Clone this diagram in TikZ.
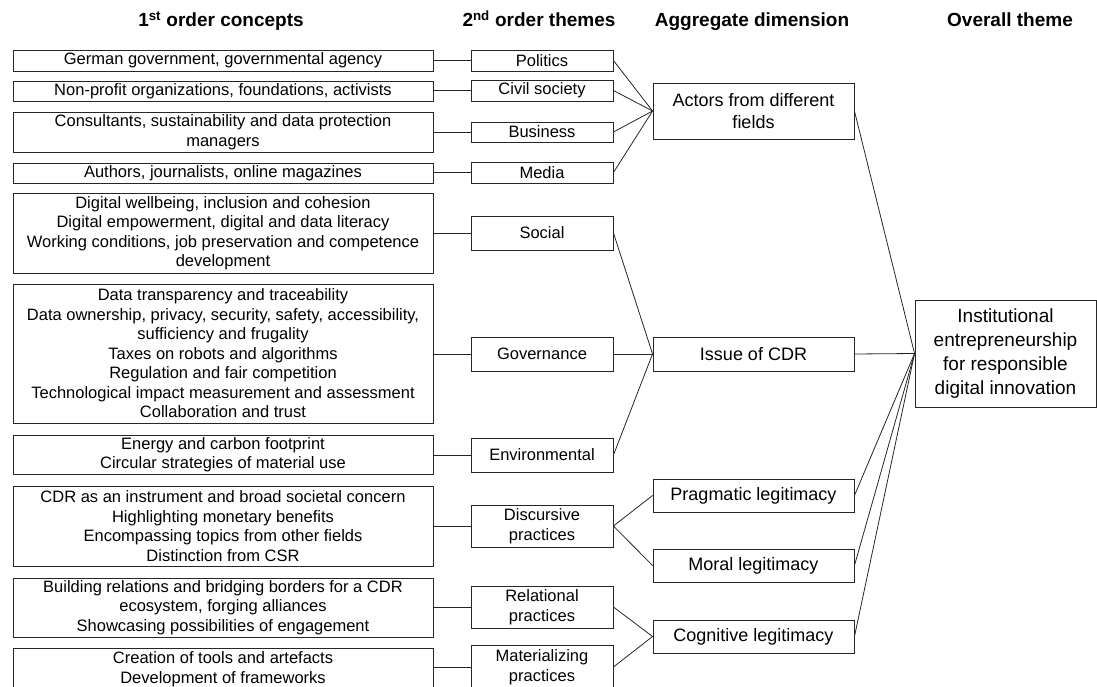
\documentclass[tikz,border=0pt]{standalone}
\usepackage{fontspec}
\setmainfont{Liberation Sans}
\begin{document}
\begin{tikzpicture}[x=1pt,y=-1pt,
  box/.style={draw=black!85,line width=0.9pt,rectangle,inner sep=0pt,align=center,text=black},
  cone/.style={box,minimum width=420,font=\fontsize{16.5}{19.5}\selectfont},
  ctwo/.style={box,minimum width=142,font=\fontsize{16.5}{20}\selectfont},
  cthree/.style={box,minimum width=201,font=\fontsize{18}{22}\selectfont},
  cfour/.style={box,minimum width=181,font=\fontsize{19}{24}\selectfont},
  hdr/.style={anchor=base,font=\fontsize{19}{22}\selectfont\bfseries},
  link/.style={draw=black!85,line width=0.8pt}]
\useasboundingbox (0,0) rectangle (1097,687);
% headers
\node[hdr] (h1) at (221,27) {1\textsuperscript{st} order concepts};
\node[hdr] (h2) at (539,27) {2\textsuperscript{nd} order themes};
\node[hdr] (h3) at (752,27) {Aggregate dimension};
\node[hdr] (h4) at (1010,27) {Overall theme};
% first order concepts
\node[cone,minimum height=21] (a1) at (223,60.5) {German government, governmental agency};
\node[cone,minimum height=20] (a2) at (223,91) {Non-profit organizations, foundations, activists};
\node[cone,minimum height=40] (a3) at (223,132) {Consultants, sustainability and data protection\\managers};
\node[cone,minimum height=20] (a4) at (223,173) {Authors, journalists, online magazines};
\node[cone,minimum height=80] (a5) at (223,233) {Digital wellbeing, inclusion and cohesion\\Digital empowerment, digital and data literacy\\Working conditions, job preservation and competence\\development};
\node[cone,minimum height=139] (a6) at (223,353.5) {Data transparency and traceability\\Data ownership, privacy, security, safety, accessibility,\\sufficiency and frugality\\Taxes on robots and algorithms\\Regulation and fair competition\\Technological impact measurement and assessment\\Collaboration and trust};
\node[cone,minimum height=39] (a7) at (223,454.5) {Energy and carbon footprint\\Circular strategies of material use};
\node[cone,minimum height=80] (a8) at (223,526) {CDR as an instrument and broad societal concern\\Highlighting\ monetary benefits\\Encompassing topics from other fields\\Distinction from CSR};
\node[cone,minimum height=59] (a9) at (223,607.5) {Building relations and bridging borders for a CDR\\ecosystem, forging alliances\\Showcasing possibilities of engagement};
\node[cone,minimum height=42] (a10) at (223,669) {Creation of tools and artefacts\\Development of frameworks};
% second order themes
\node[ctwo,minimum height=21] (b1) at (542,60.5) {Politics};
\node[ctwo,minimum height=21] (b2) at (542,90.5) {Civil society};
\node[ctwo,minimum height=20] (b3) at (542,132) {Business};
\node[ctwo,minimum height=21] (b4) at (542,172.5) {Media};
\node[ctwo,minimum height=34] (b5) at (542,233) {Social};
\node[ctwo,minimum height=34] (b6) at (542,354) {Governance};
\node[ctwo,minimum height=34] (b7) at (542,455) {Environmental};
\node[ctwo,minimum height=42] (b8) at (542,526) {Discursive\\practices};
\node[ctwo,minimum height=42] (b9) at (542,607) {Relational\\practices};
\node[ctwo,minimum height=44] (b10) at (542,667) {Materializing\\practices};
% aggregate dimensions
\node[cthree,minimum height=56] (c1) at (753.5,111) {Actors from different\\fields};
\node[cthree,minimum height=34] (c2) at (753.5,354) {Issue of CDR};
\node[cthree,minimum height=33] (c3) at (753.5,495.5) {Pragmatic legitimacy};
\node[cthree,minimum height=33] (c4) at (753.5,565.5) {Moral legitimacy};
\node[cthree,minimum height=33] (c5) at (753.5,636.5) {Cognitive legitimacy};
% overall theme
\node[cfour,minimum height=107] (d1) at (1005.5,353.5) {Institutional\\entrepreneurship\\for responsible\\digital innovation};
% connectors: first to second order (horizontal)
\foreach \i in {1,...,10} {\draw[link] (b\i.west) -- (b\i.west -| a\i.east);}
% second order to aggregate
\foreach \i in {1,2,3,4} {\draw[link] (b\i.east) -- (c1.west);}
\foreach \i in {5,6,7} {\draw[link] (b\i.east) -- (c2.west);}
\draw[link] (b8.east) -- (c3.west);
\draw[link] (b8.east) -- (c4.west);
\draw[link] (b9.east) -- (c5.west);
\draw[link] (b10.east) -- (c5.west);
% aggregate to overall
\foreach \i in {1,...,5} {\draw[link] (c\i.east) -- (d1.west);}
\end{tikzpicture}
\end{document}
